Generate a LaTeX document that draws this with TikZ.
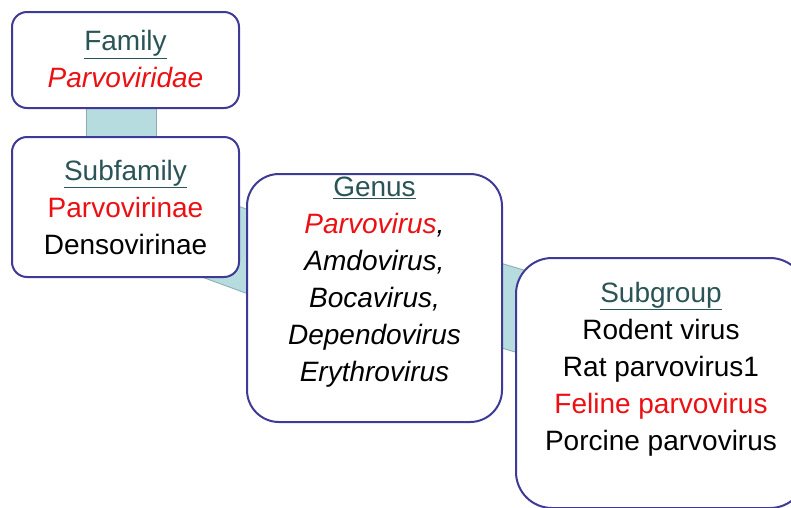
\documentclass[tikz,border=0pt]{standalone}
\usepackage{fontspec}
\setmainfont{Liberation Sans}
\usepackage{xcolor}
\usepackage{tikz}
\usetikzlibrary{positioning,calc,backgrounds}
\definecolor{boxline}{RGB}{62,58,150}
\definecolor{headteal}{RGB}{42,84,86}
\definecolor{redtxt}{RGB}{236,16,20}
\definecolor{bandfill}{RGB}{182,220,224}
\definecolor{bandline}{RGB}{140,172,176}
\newcommand{\rankhead}[1]{\textcolor{headteal}{\underline{#1}}}

\begin{document}
\begin{tikzpicture}[
    x=1pt, y=-1pt,
    font=\fontsize{28}{37}\selectfont,
    box/.style={draw=boxline, line width=2pt, fill=white,
                rounded corners=15pt, inner sep=0pt},
    rank/.style={align=center, inner sep=2pt},
    band/.style={draw=bandline, line width=1pt, double=bandfill,
                 double distance=#1},
    band/.default=70pt
]
\path[use as bounding box, clip] (0,0) rectangle (791,507);

\node[box, minimum width=227pt, minimum height=96pt] (family) at (125.5,60) {};
\node[box, minimum width=227pt, minimum height=140pt, below=27pt of family] (subfamily) {};
\node[box, rounded corners=32pt, minimum width=255pt, minimum height=248pt,
      below right=37pt and 6pt of subfamily.north east] (genus) {};
\node[box, rounded corners=36pt, minimum width=290pt, minimum height=250pt,
      below right=84pt and 12pt of genus.north east] (subgroup) {};

% texts in the boxes
\node[rank] (familytext) at ([yshift=1pt]family.center)
    {\rankhead{Family}\\\textcolor{redtxt}{\itshape Parvoviridae}};
\node[rank] (subfamilytext) at (subfamily.center)
    {\rankhead{Subfamily}\\\textcolor{redtxt}{Parvovirinae}\\Densovirinae};
\node[rank] (genustext) at ([yshift=16pt]genus.center)
    {\rankhead{Genus}\\\itshape\textcolor{redtxt}{Parvovirus},\\\itshape Amdovirus,\\
     \itshape Bocavirus,\\\itshape Dependovirus\\\itshape Erythrovirus};
\node[rank] (subgrouptext) at ([yshift=14pt]subgroup.center)
    {\rankhead{Subgroup}\\Rodent virus\\Rat parvovirus1\\
     \textcolor{redtxt}{Feline parvovirus}\\Porcine parvovirus};

% connectors behind the boxes
\begin{scope}[on background layer]
\draw[band=69pt] ([xshift=-4pt]family.center) -- ([xshift=-4pt]subfamily.center);
\draw[band=78pt] (subfamily.center) -- (genus.center);
\draw[band=80pt] ([yshift=30pt]genus.center) -- ([yshift=30pt]subgroup.center);
\end{scope}

\end{tikzpicture}
\end{document}
